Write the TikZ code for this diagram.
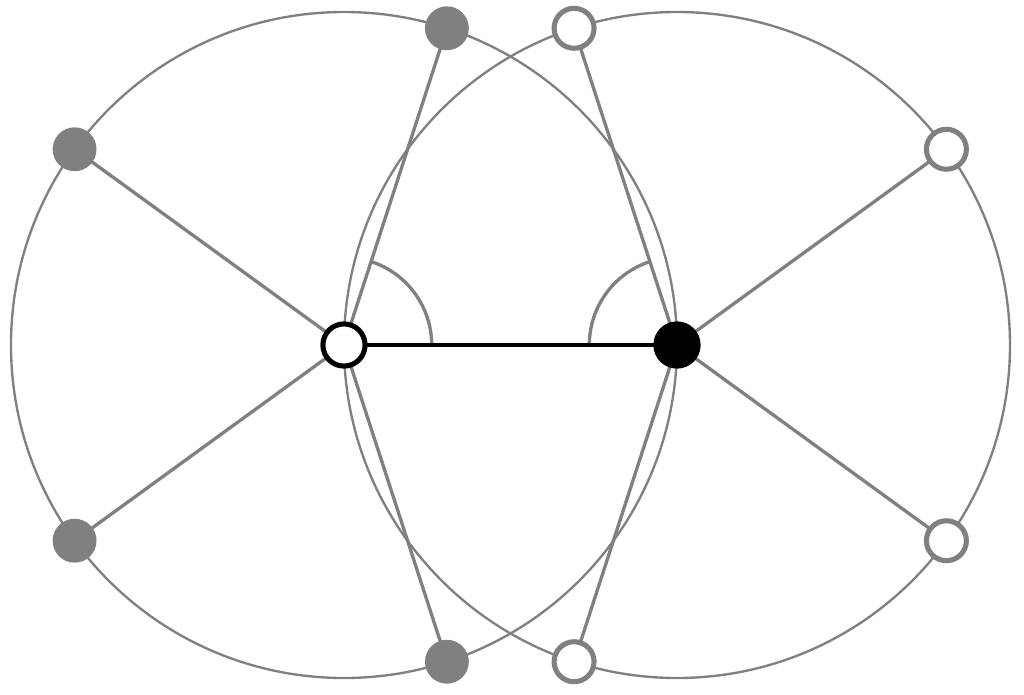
\documentclass[tikz,border=0pt]{standalone}
\usetikzlibrary{calc}
\begin{document}
\begin{tikzpicture}
\definecolor{g}{RGB}{128,128,128}
\tikzset{gline/.style={draw=g,line width=0.85pt},
 circ/.style={draw=g,line width=0.6pt},
 gfill/.style={circle,fill=g,draw=g,line width=1pt,minimum size=0.36cm,inner sep=0},
 gopen/.style={circle,fill=white,draw=g,line width=1.3pt,minimum size=0.36cm,inner sep=0},
 bopen/.style={circle,fill=white,draw=black,line width=1.3pt,minimum size=0.38cm,inner sep=0},
 bfill/.style={circle,fill=black,draw=black,line width=1.3pt,minimum size=0.38cm,inner sep=0}}
\useasboundingbox (-3.099,-3.153) rectangle (6.126,3.108);
\coordinate (A) at (0,0);
\coordinate (B) at (3,0);
\draw[circ] (A) circle (3);
\draw[circ] (B) circle (3);
\foreach \a/\n in {72/l1,144/l2,216/l3,288/l4}{\coordinate (\n) at (\a:3);}
\foreach \a/\n in {108/r1,36/r2,-36/r3,252/r4}{\coordinate (\n) at ($(B)+(\a:3)$);}
\foreach \n in {l1,l2,l3,l4}{\draw[gline] (A) -- (\n);}
\foreach \n in {r1,r2,r3,r4}{\draw[gline] (B) -- (\n);}
\draw[gline] (0.79,0) arc (0:72:0.79);
\draw[gline] ($(B)+(108:0.79)$) arc (108:180:0.79);
\draw[black,line width=1.2pt] (A) -- (B);
\foreach \n in {l1,l2,l3,l4}{\node[gfill] at (\n) {};}
\foreach \n in {r1,r2,r3,r4}{\node[gopen] at (\n) {};}
\node[bopen] (a) at (A) {};
\node[bfill] (b) at (B) {};
\end{tikzpicture}
\end{document}
